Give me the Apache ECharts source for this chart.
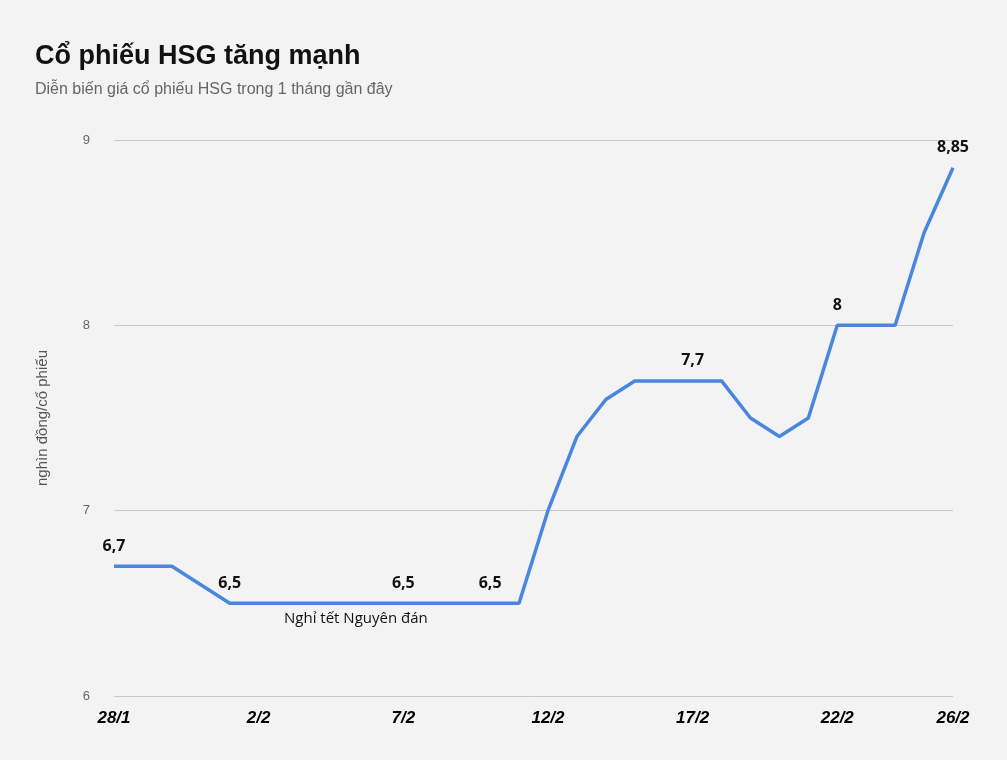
<!DOCTYPE html>
<html>
<head>
<meta charset="utf-8">
<script src="https://cdn.jsdelivr.net/npm/echarts@6/dist/echarts.min.js"></script>
<style>html,body{margin:0;background:#f3f3f3}#main{width:1007px;height:760px}</style>
</head>
<body>
<div id="main"></div>
<script>
var dates = ['28/1','29/1','30/1','31/1','1/2','2/2','3/2','4/2','5/2','6/2','7/2','8/2','9/2','10/2','11/2',
    '12/2','13/2','14/2','15/2','16/2','17/2','18/2','19/2','20/2','21/2','22/2','23/2','24/2','25/2','26/2']
var prices = [6.7,6.7,6.7,6.6,6.5,6.5,6.5,6.5,6.5,6.5,6.5,6.5,6.5,6.5,6.5,
    7.0,7.4,7.6,7.7,7.7,7.7,7.7,7.5,7.4,7.5,8.0,8.0,8.0,8.5,8.85]
// cac diem co nhan so lieu
var labelIdx = [0,4,10,13,20,25,29]
var shownTicks = ['28/1','2/2','7/2','12/2','17/2','22/2','26/2']

var myChart = echarts.init(document.getElementById('main'))
var option = {
    backgroundColor: '#f3f3f3',
    title: {
        text: 'Cổ phiếu HSG tăng mạnh',
        subtext: 'Diễn biến giá cổ phiếu HSG trong 1 tháng gần đây',
        left: 30, top: 38,
        textStyle: {fontFamily: 'Liberation Sans', fontSize: 27, fontWeight: 'bold', color: '#111'},
        subtextStyle: {fontFamily: 'Liberation Sans', fontSize: 16, color: '#666'},
        itemGap: 12
    },
    grid: {left: 114, right: 54, top: 140, bottom: 64},
    xAxis: {
        type: 'category',
        data: dates,
        boundaryGap: false,
        axisLine: {show: false},
        axisTick: {show: false},
        splitLine: {show: false},
        axisLabel: {
            interval: function (i, v) { return shownTicks.indexOf(v) >= 0 },
            color: '#000', fontSize: 17, fontWeight: 'bold', fontStyle: 'italic',
            fontFamily: 'Liberation Sans', margin: 14
        }
    },
    yAxis: {
        type: 'value', min: 6, max: 9, interval: 1,
        name: 'nghìn đồng/cổ phiếu',
        nameLocation: 'middle', nameGap: 64,
        nameTextStyle: {color: '#555', fontSize: 15, fontFamily: 'Liberation Sans'},
        axisLabel: {color: '#666', fontSize: 13, margin: 24},
        splitLine: {lineStyle: {color: '#c8c8c8'}}
    },
    series: [{
        type: 'line',
        data: prices,
        symbol: 'circle',
        symbolSize: 0.1,
        showAllSymbol: true,
        lineStyle: {color: '#4a86e0', width: 3.5},
        itemStyle: {color: '#4a86e0'},
        label: {
            show: true, position: 'top', distance: 12,
            color: '#111', fontWeight: 'bold', fontSize: 16, fontFamily: 'Open Sans',
            formatter: function (p) {
                return labelIdx.indexOf(p.dataIndex) >= 0 ? String(p.value).replace('.', ',') : ''
            }
        }
    }],
    graphic: [{
        type: 'text', left: 284, top: 611,
        style: {text: 'Nghỉ tết Nguyên đán', fill: '#111', fontSize: 15, fontFamily: 'Open Sans'}
    }],
    // grid starts at 114 in reference; keep the y axis labels near x=87
    animation: false
}
myChart.setOption(option)
</script>
</body>
</html>
